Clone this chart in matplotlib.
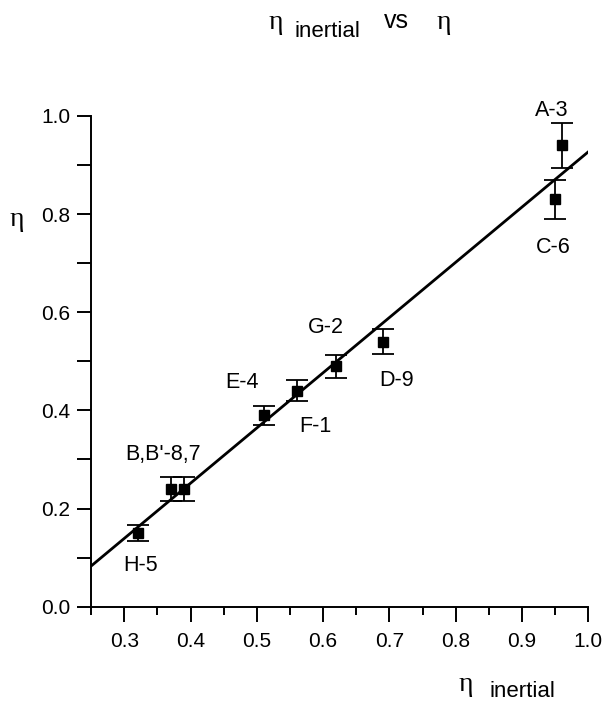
import matplotlib
matplotlib.use("Agg")
import matplotlib.pyplot as plt
from matplotlib.ticker import MultipleLocator, FormatStrFormatter

# data
labels = ["H-5", "B", "B'", "E-4", "F-1", "G-2", "D-9", "C-6", "A-3"]
eta_inertial = [0.32, 0.37, 0.39, 0.51, 0.56, 0.62, 0.69, 0.95, 0.96]
eta = [0.15, 0.24, 0.24, 0.39, 0.44, 0.49, 0.54, 0.83, 0.94]
eta_err = [0.017, 0.024, 0.024, 0.019, 0.021, 0.023, 0.026, 0.040, 0.046]

# fitted line
fit_x = [0.25, 1.0]
fit_y = [0.083, 0.927]

# text labels and their positions (data coordinates)
point_names = ["A-3", "C-6", "G-2", "D-9", "E-4", "F-1", "B,B'-8,7", "H-5"]
name_x = [0.945, 0.947, 0.604, 0.711, 0.478, 0.588, 0.359, 0.324]
name_y = [1.012, 0.733, 0.568, 0.460, 0.456, 0.367, 0.310, 0.083]

plt.rcParams['font.family'] = ['Liberation Sans', 'DejaVu Sans']
greek = ['Liberation Serif', 'DejaVu Serif']

fig = plt.figure(figsize=(6.04, 7.03), dpi=100)
ax = fig.add_axes([0.151, 0.137, 0.823, 0.698])

ax.plot(fit_x, fit_y, color='black', linewidth=2.0, zorder=2)
ax.errorbar(eta_inertial, eta, yerr=eta_err, fmt='s', color='black',
            markersize=6.5, ecolor='black', elinewidth=1.3, capsize=8,
            capthick=1.3, zorder=3)

for name, tx, ty in zip(point_names, name_x, name_y):
    ax.text(tx, ty, name, fontsize=15.5, ha='center', va='center', clip_on=False)

ax.set_xlim(0.25, 1.0)
ax.set_ylim(0.0, 1.0)
ax.xaxis.set_minor_locator(MultipleLocator(0.05))
ax.yaxis.set_major_locator(MultipleLocator(0.2))
ax.yaxis.set_minor_locator(MultipleLocator(0.1))
ax.set_xticks([0.3, 0.4, 0.5, 0.6, 0.7, 0.8, 0.9, 1.0])
ax.xaxis.set_major_formatter(FormatStrFormatter('%.1f'))
ax.yaxis.set_major_formatter(FormatStrFormatter('%.1f'))

for s in ['top', 'right']:
    ax.spines[s].set_visible(False)
for s in ['left', 'bottom']:
    ax.spines[s].set_linewidth(1.4)

ax.tick_params(axis='x', which='major', direction='out', length=11, width=1.4,
               labelsize=15, pad=7)
ax.tick_params(axis='x', which='minor', direction='out', length=6, width=1.4)
ax.tick_params(axis='y', which='both', direction='out', length=10, width=1.4,
               labelsize=15, pad=5)

# axis labels
fig.text(0.028, 0.688, "η", fontsize=20, family=greek, ha='center', va='center')
fig.text(0.772, 0.027, "η", fontsize=20, family=greek, ha='center', va='center')
fig.text(0.811, 0.016, "inertial", fontsize=16, ha='left', va='center')

# title
fig.text(0.457, 0.968, "η", fontsize=20, family=greek, ha='center', va='center')
fig.text(0.487, 0.955, "inertial", fontsize=16, ha='left', va='center')
fig.text(0.657, 0.970, "vs", fontsize=18, ha='center', va='center')
fig.text(0.735, 0.968, "η", fontsize=20, family=greek, ha='center', va='center')

fig.savefig("out.png", dpi=100, facecolor='white')
